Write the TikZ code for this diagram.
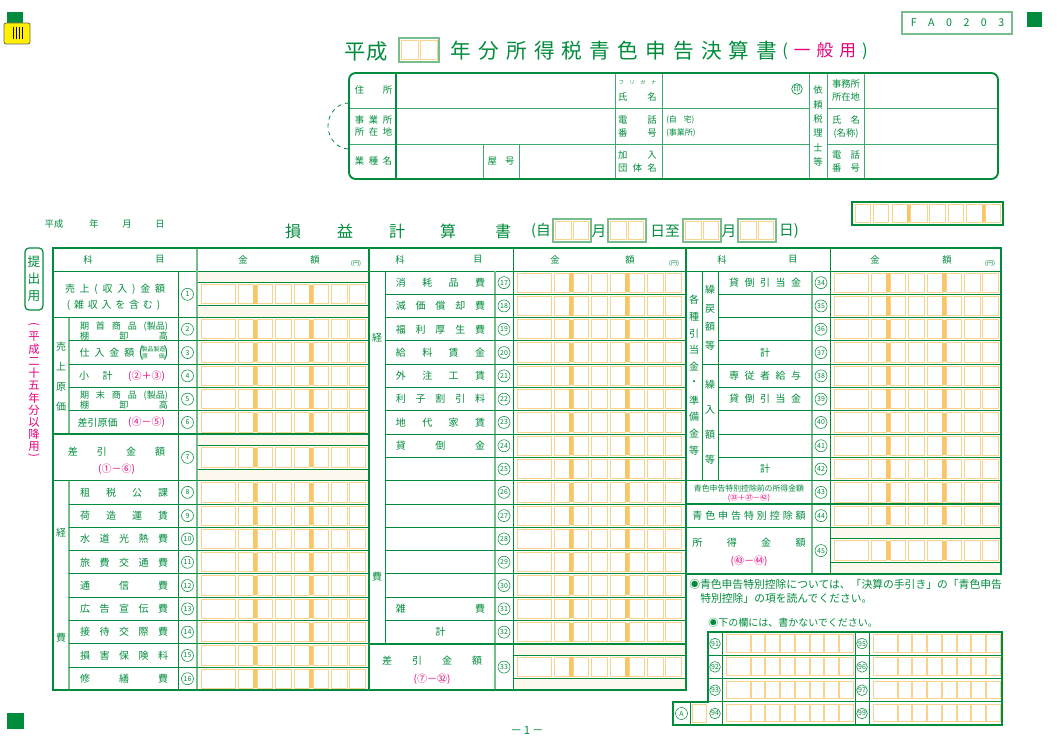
\documentclass[tikz,border=0pt]{standalone}
\usepackage{fontspec}
\setmainfont{Noto Sans CJK JP}
\definecolor{formgreen}{RGB}{0,140,60}
\definecolor{softgreen}{RGB}{120,190,140}
\definecolor{cellorange}{RGB}{250,210,140}
\definecolor{barorange}{RGB}{248,198,105}
\definecolor{creamband}{RGB}{253,248,238}
\definecolor{formmagenta}{RGB}{230,0,125}
\definecolor{markyellow}{RGB}{255,240,0}

\newcommand\fs[1]{\fontsize{#1}{#1}\selectfont}
\newcommand\Y[1]{(271+23.3*(#1))}

\makeatletter
\newcommand\spreadchars[2]{\makebox[#1]{\expandafter\spr@loop#2\@nil}}
\def\spr@loop#1#2\@nil{#1\ifx\@nil#2\@nil\else\hfill\spr@loop#2\@nil\fi}
\makeatother

% eight amount cells in one row
\newcommand\amount[2]{%
  \foreach \a/\b in {4/38,41/56,60/75,78/94,97/112,116/131,134/150,152/168}
    {\draw[cellbox] ({#1+\a},{#2+2}) rectangle ({#1+\b},{#2+21.3});}
  \foreach \a in {56,112}
    {\fill[cellbar] ({#1+\a},{#2+2}) rectangle ({#1+\a+4},{#2+21.3});}}
% amount with cream bands above and below
\newcommand\bandamount[3]{%
  \fill[creamband] ({#1},{#3}) rectangle ({#1+#2},{#3+46.6});
  \fill[white] ({#1},{#3+11.65}) rectangle ({#1+#2},{#3+34.95});
  \draw[rule] ({#1},{#3+11.65}) -- ({#1+#2},{#3+11.65})
    ({#1},{#3+34.95}) -- ({#1+#2},{#3+34.95});
  \amount{#1}{#3+11.65}}
% cells of the office-use panel
\newcommand\boxcells[2]{%
  \foreach \a/\b in {4/28,29/42,43/57,58/72,73/87,88/101,102/116,117/131}
    {\draw[cellbox] ({#1+\a},{#2+2.5}) rectangle ({#1+\b},{#2+20});}}

\begin{document}
\begin{tikzpicture}[x=0.75pt,y=-0.75pt,
    frame/.style={draw=formgreen,line width=1.4pt},
    rule/.style={draw=formgreen,line width=0.7pt},
    softrule/.style={draw=softgreen,line width=1.2pt},
    cellbox/.style={draw=cellorange,line width=0.7pt},
    cellbar/.style={fill=barorange},
    lab/.style={text=formgreen,inner sep=0pt,font=\fs{7.5}},
    info/.style={text=formgreen,inner sep=0pt,font=\fs{7}},
    calc/.style={text=formmagenta,inner sep=0pt,font=\fs{7.5}},
    numc/.style={circle,draw=formgreen,line width=0.4pt,inner sep=0pt,
      minimum size=9pt,text=formgreen,font=\fs{5.2}}]

\useasboundingbox (0,0) rectangle (1057,737);
\fill[white] (0,0) rectangle (1057,737);

% corner marks
\fill[formgreen] (7,12) rectangle (23,23);
\draw[fill=markyellow,draw=black!60,line width=0.6pt,rounded corners=1.5pt] (4,23) rectangle (30,44);
\foreach \x in {13,16,19,22}
  \draw[line width=0.5pt] (\x,27) -- (\x,39);
\fill[formgreen] (1027,12) rectangle (1042,27);
\fill[formgreen] (7,713) rectangle (24,729);

% form code and title
\draw[softrule,line width=0.9pt] (902,12) rectangle (1012,34);
\node[text=formgreen,inner sep=0pt,font=\fs{8}] (code) at (957.5,23) {\spreadchars{70pt}{FA0203}};
\node[text=formgreen,inner sep=0pt,font=\fs{16}] (heisei) at (366,51) {平成};
\draw[softrule,line width=0.9pt] (399,38) rectangle (439,62);
\draw[cellbox] (401.5,40.5) rectangle (418.5,59.5) (420.5,40.5) rectangle (437.5,59.5);
\node[text=formgreen,inner sep=0pt,font=\fs{15.5}] (title) at (614,51) {\spreadchars{245pt}{年分所得税青色申告決算書}};
\node[text=formgreen,inner sep=0pt,font=\fs{12.5}] (ippan) at (825,51)
  {\makebox[64pt]{(\hfill\textcolor{formmagenta}{一}\hfill\textcolor{formmagenta}{般}\hfill\textcolor{formmagenta}{用}\hfill)}};

% address box
\draw[formgreen,dashed,line width=0.6pt] (349,103) arc[start angle=270,end angle=90,x radius=21,y radius=23];
\foreach \y in {108,144}
  \draw[rule,draw=formgreen!75] (349,\y) -- (809,\y) (827,\y) -- (998,\y);
\foreach \x in {615,662,809,827,864}
  \draw[rule,draw=formgreen!75] (\x,73) -- (\x,179);
\foreach \x in {483,519}
  \draw[rule,draw=formgreen!75] (\x,144) -- (\x,179);
\draw[formgreen,line width=1.3pt] (396,73) -- (396,179);
\draw[frame,rounded corners=5pt] (349,73) rectangle (998,179);
\node[info] (jusho) at (373.5,90) {\spreadchars{28pt}{住所}};
\node[info] (jigyo1) at (373.5,120) {\spreadchars{28pt}{事業所}};
\node[info] (jigyo2) at (373.5,132) {\spreadchars{28pt}{所在地}};
\node[info] (gyoshu) at (373.5,161) {\spreadchars{28pt}{業種名}};
\node[info] (yago) at (501,161) {\spreadchars{20pt}{屋号}};
\node[info,font=\fs{3.8}] (furigana) at (637.5,83) {\spreadchars{28pt}{フリガナ}};
\node[info] (shimei) at (637.5,97) {\spreadchars{29pt}{氏名}};
\node[circle,draw=formgreen,line width=0.5pt,inner sep=0pt,minimum size=8pt,text=formgreen,font=\fs{5.5}] (in) at (797,89) {印};
\node[info] (denwa1) at (637.5,120) {\spreadchars{29pt}{電話}};
\node[info] (denwa2) at (637.5,133) {\spreadchars{29pt}{番号}};
\node[info,font=\fs{6},anchor=west] (jitaku) at (666,120) {(自\hspace{5pt}宅)};
\node[info,font=\fs{6},anchor=west] (jimusho) at (666,133) {(事業所)};
\node[info] (kanyu1) at (637.5,155) {\spreadchars{29pt}{加入}};
\node[info] (kanyu2) at (637.5,168) {\spreadchars{29pt}{団体名}};
\foreach \c [count=\i] in {依,頼,税,理,士,等}
  \node[info] (irai\i) at (818,{76+14.3*\i}) {\c};
\node[info] (zei1) at (846,84) {事務所};
\node[info] (zei2) at (846,97) {所在地};
\node[info] (zei3) at (846,120) {\spreadchars{21pt}{氏名}};
\node[info] (zei4) at (846,133) {(名称)};
\node[info] (zei5) at (846,155) {\spreadchars{21pt}{電話}};
\node[info] (zei6) at (846,168) {\spreadchars{21pt}{番号}};

% date line and statement title
\node[info] (hd1) at (54,224) {平成};
\node[info] (hd2) at (94,224) {年};
\node[info] (hd3) at (127,224) {月};
\node[info] (hd4) at (160,224) {日};
\foreach \c/\x [count=\i] in {損/293,益/345,計/397,算/448,書/503}
  \node[text=formgreen,inner sep=0pt,font=\fs{12}] (pl\i) at (\x,231) {\c};
\node[text=formgreen,inner sep=0pt,font=\fs{11}] (kikan1) at (541,231) {(自};
\node[text=formgreen,inner sep=0pt,font=\fs{11}] (kikan2) at (599,231) {月};
\node[text=formgreen,inner sep=0pt,font=\fs{11}] (kikan3) at (665,231) {日至};
\node[text=formgreen,inner sep=0pt,font=\fs{11}] (kikan4) at (729,231) {月};
\node[text=formgreen,inner sep=0pt,font=\fs{11}] (kikan5) at (789,231) {日)};
\foreach \x in {553,608,683,738} {
  \draw[softrule,line width=0.9pt] (\x,219) rectangle (\x+38,242);
  \draw[cellbox] (\x+2.5,221.5) rectangle (\x+18,239.5) (\x+20,221.5) rectangle (\x+35.5,239.5);
}
\draw[frame] (852,202) rectangle (1003,225);
\foreach \a/\b in {855/870,873/888,892/907,910/927,929/945,948/963,966/982,985/1000}
  \draw[cellbox] (\a,204.5) rectangle (\b,222.5);
\fill[barorange] (907,204.5) rectangle (910,222.5) (982,204.5) rectangle (985,222.5);

% side notes
\draw[formgreen,line width=0.9pt,rounded corners=3pt] (25,248) rectangle (43,310);
\foreach \c [count=\i] in {提,出,用}
  \node[text=formgreen,inner sep=0pt,font=\fs{9.5}] (teishutsu\i) at (34,{245+17*\i}) {\c};
\node[text=formmagenta,inner sep=0pt,font=\fs{8.5},rotate=-90] (nen0) at (34,324) {(};
\foreach \c [count=\i] in {平,成,二,十,五,年,分,以,降,用}
  \node[text=formmagenta,inner sep=0pt,font=\fs{8.5}] (nen\i) at (34,{324.8+12.2*\i}) {\c};
\node[text=formmagenta,inner sep=0pt,font=\fs{8.5},rotate=-90] (nen11) at (34,455) {)};

% amount columns
\bandamount{197}{172}{\Y{0}}
\foreach \u in {2,...,6} {\amount{197}{\Y{\u}}}
\bandamount{197}{172}{\Y{7}}
\foreach \u in {9,...,17} {\amount{197}{\Y{\u}}}
\foreach \u in {0,...,15} {\amount{513}{\Y{\u}}}
\bandamount{513}{173}{\Y{16}}
\foreach \u in {0,...,10} {\amount{830}{\Y{\u}}}
\bandamount{830}{171}{\Y{11}}

% grid
\draw[rule] (53,271) -- (1001,271);
\draw[softrule] (197,248) -- (197,690.4);
\draw[rule] (178,271) -- (178,690.4);
\draw[softrule] (69,{\Y{2}}) -- (69,{\Y{7}}) (69,{\Y{9}}) -- (69,{\Y{18}});
\foreach \u in {3,4,5,6,10,11,12,13,14,15,16,17}
  \draw[rule] (69,{\Y{\u}}) -- (369,{\Y{\u}});
\foreach \u in {2,7,9}
  \draw[rule,line width=1.1pt] (53,{\Y{\u}}) -- (369,{\Y{\u}});
\draw[rule] (385,271) -- (385,{\Y{16}});
\draw[softrule] (495,271) -- (495,690.4);
\draw[rule] (513,248) -- (513,690.4);
\foreach \u in {1,...,15}
  \draw[rule] (385,{\Y{\u}}) -- (686,{\Y{\u}});
\draw[rule,line width=1.1pt] (369,{\Y{16}}) -- (686,{\Y{16}});
\draw[rule] (702,271) -- (702,{\Y{9}}) (718,271) -- (718,{\Y{9}});
\draw[softrule] (812,271) -- (812,{\Y{13}});
\draw[rule] (830,248) -- (830,{\Y{13}});
\foreach \u in {1,2,3,5,6,7,8}
  \draw[rule] (718,{\Y{\u}}) -- (1001,{\Y{\u}});
\draw[rule] (702,{\Y{4}}) -- (1001,{\Y{4}});
\foreach \u in {9,10,11}
  \draw[rule,line width=1.1pt] (686,{\Y{\u}}) -- (1001,{\Y{\u}});
\draw[frame] (53,248) rectangle (686,690.4);
\draw[frame] (686,248) rectangle (1001,{\Y{13}});
\draw[frame] (369,248) -- (369,690.4);

% column heads
\foreach \xa/\xb/\xc/\xd/\xe [count=\s] in {88/160/243/315/356,400/478/555/630/674,722/793/875/947/990} {
  \node[lab,font=\fs{7}] (ka\s) at (\xa,259.5) {科};
  \node[lab,font=\fs{7}] (moku\s) at (\xb,259.5) {目};
  \node[lab,font=\fs{7}] (kin\s) at (\xc,259.5) {金};
  \node[lab,font=\fs{7}] (gaku\s) at (\xd,259.5) {額};
  \node[lab,font=\fs{4.5}] (yen\s) at (\xe,263.5) {(円)};
}

% line numbers
\node[numc] (n1) at (187.5,{\Y{1}}) {1};
\foreach \n in {2,...,6}
  \node[numc] (n\n) at (187.5,{\Y{\n+0.5}}) {\n};
\node[numc] (n7) at (187.5,{\Y{8}}) {7};
\foreach \n in {8,...,16}
  \node[numc] (n\n) at (187.5,{\Y{\n+1.5}}) {\n};
\foreach \n in {17,...,32}
  \node[numc] (n\n) at (504,{\Y{\n-16.5}}) {\n};
\node[numc] (n33) at (504,{\Y{17}}) {33};
\foreach \n in {34,...,44}
  \node[numc] (n\n) at (821,{\Y{\n-33.5}}) {\n};
\node[numc] (n45) at (821,{\Y{12}}) {45};

% left block items
\node[lab] (k1a) at (115,289) {\spreadchars{75pt}{売上(収入)金額}};
\node[lab] (k1b) at (113.5,305) {\spreadchars{70pt}{(雑収入を含む)}};
\foreach \c [count=\i] in {売,上,原,価}
  \node[lab] (genka\i) at (61,{327+20*\i}) {\c};
\node[lab,font=\fs{6.8}] (k2a) at (124,{\Y{2}+8.5}) {\makebox[66pt]{期\hfill 首\hfill 商\hfill 品\hfill(製品)}};
\node[lab,font=\fs{6.8}] (k2b) at (124,{\Y{2}+18}) {\spreadchars{66pt}{棚卸高}};
\node[lab] (k3) at (107,{\Y{3.5}}) {\spreadchars{41pt}{仕入金額}};
\node[lab,font=\fs{11}] (k3p1) at (141,{\Y{3.5}}) {(};
\node[lab,font=\fs{11}] (k3p2) at (166,{\Y{3.5}}) {)};
\node[lab,font=\fs{4.4}] (k3a) at (153.5,{\Y{3.5}-3.3}) {製品製造};
\node[lab,font=\fs{4.4}] (k3b) at (153.5,{\Y{3.5}+3.3}) {\spreadchars{17pt}{原価}};
\node[lab] (k4a) at (84,{\Y{4.5}}) {小};
\node[lab] (k4b) at (107.5,{\Y{4.5}}) {計};
\node[calc] (f4) at (146.5,{\Y{4.5}}) {(②＋③)};
\node[lab,font=\fs{6.8}] (k5a) at (124,{\Y{5}+8.5}) {\makebox[66pt]{期\hfill 末\hfill 商\hfill 品\hfill(製品)}};
\node[lab,font=\fs{6.8}] (k5b) at (124,{\Y{5}+18}) {\spreadchars{66pt}{棚卸高}};
\node[lab] (k6) at (97.5,{\Y{6.5}}) {差引原価};
\node[calc] (f6) at (146.5,{\Y{6.5}}) {(④－⑤)};
\node[lab] (k7) at (116.5,452) {\spreadchars{73pt}{差引金額}};
\node[calc] (f7) at (116.5,469) {(①－⑥)};
\node[lab] (keihi1) at (61,533) {経};
\node[lab] (keihi2) at (61,638) {費};
\foreach \t [count=\i from 8] in {租税公課,荷造運賃,水道光熱費,旅費交通費,通信費,広告宣伝費,接待交際費,損害保険料,修繕費}
  \node[lab] (k\i) at (124,{\Y{\i+1.5}}) {\spreadchars{66pt}{\t}};

% middle block items
\foreach \t [count=\i from 17] in {消耗品費,減価償却費,福利厚生費,給料賃金,外注工賃,利子割引料,地代家賃,貸倒金}
  \node[lab] (k\i) at (440.5,{\Y{\i-16.5}}) {\spreadchars{67pt}{\t}};
\node[lab] (k31) at (440.5,{\Y{14.5}}) {\spreadchars{67pt}{雑費}};
\node[lab] (k32) at (440.5,{\Y{15.5}}) {計};
\node[lab] (keihi3) at (377,338) {経};
\node[lab] (keihi4) at (377,577) {費};
\node[lab] (k33) at (432,661) {\spreadchars{75pt}{差引金額}};
\node[calc] (f33) at (432,679) {(⑦－㉜)};

% right block items
\foreach \c [count=\i] in {各,種,引,当,金,・,準,備,金,等}
  \node[lab] (hikiate\i) at (694,{283.3+16.7*\i}) {\c};
\foreach \c [count=\i] in {繰,戻,額,等}
  \node[lab] (modoshi\i) at (710,{271.5+18.5*\i}) {\c};
\foreach \c [count=\i] in {繰,入,額,等}
  \node[lab] (kurii\i) at (710,{360+25*\i}) {\c};
\node[lab] (k34) at (765,{\Y{0.5}}) {\spreadchars{54pt}{貸倒引当金}};
\node[lab] (k37) at (765,{\Y{3.5}}) {計};
\node[lab] (k38) at (765,{\Y{4.5}}) {\spreadchars{54pt}{専従者給与}};
\node[lab] (k39) at (765,{\Y{5.5}}) {\spreadchars{54pt}{貸倒引当金}};
\node[lab] (k42) at (765,{\Y{8.5}}) {計};
\node[lab,font=\fs{5.9}] (k43) at (749,488.5) {青色申告特別控除前の所得金額};
\node[calc,font=\fs{5.6}] (f43) at (749,498) {(㉝＋㊲－㊷)};
\node[lab] (k44) at (749,{\Y{10.5}}) {\spreadchars{85pt}{青色申告特別控除額}};
\node[lab] (k45) at (749,543) {\spreadchars{85pt}{所得金額}};
\node[calc] (f45) at (749,561) {(㊸－㊹)};

% notes
\node[lab,font=\fs{8.1},anchor=west] (note1) at (689,584) {◉青色申告特別控除については、「決算の手引き」の「青色申告};
\node[lab,font=\fs{8.1},anchor=west] (note2) at (700,598) {特別控除」の項を読んでください。};
\node[lab,font=\fs{7.5},anchor=west] (note3) at (708,623) {◉下の欄には、書かないでください。};

% office-use panel
\foreach \r in {0,...,3} {
  \boxcells{722}{632+23.3*\r}
  \boxcells{869}{632+23.3*\r}
}
\foreach \y in {655.3,678.6,701.9}
  \draw[rule] (708,\y) -- (1002,\y);
\draw[rule] (722,632) -- (722,725) (855,632) -- (855,725) (869,632) -- (869,725) (690,702) -- (690,725);
\draw[frame] (708,632) -- (1002,632) -- (1002,725) -- (673,725) -- (673,702) -- (708,702) -- cycle;
\foreach \n [count=\r from 0] in {91,92,93,94}
  \node[numc,minimum size=8pt] (n\n) at (715,{643.6+23.3*\r}) {\n};
\foreach \n [count=\r from 0] in {95,96,97,99}
  \node[numc,minimum size=8pt] (n\n) at (862,{643.6+23.3*\r}) {\n};
\node[numc] (na) at (681.5,713.5) {A};
\draw[cellbox] (692.5,704.5) rectangle (706,722.5);

\node[text=formgreen,inner sep=0pt,font=\fs{8.5}] (page) at (527,730) {－\,1\,－};
\end{tikzpicture}
\end{document}
